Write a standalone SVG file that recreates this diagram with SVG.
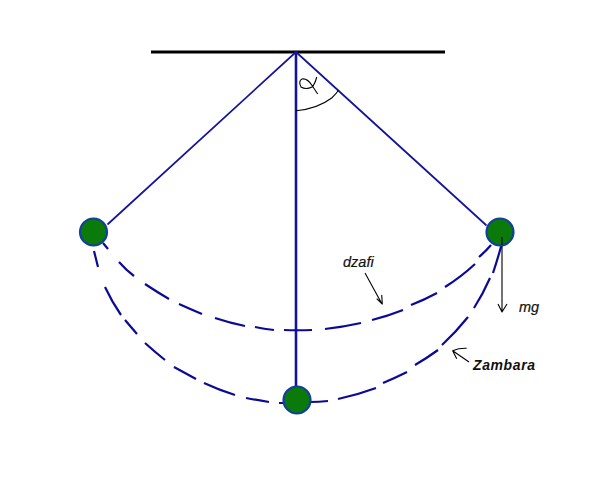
<svg xmlns="http://www.w3.org/2000/svg" width="608" height="478" viewBox="0 0 608 478">
<style>
.rod{fill:none;stroke:#14149a;stroke-width:1.700;stroke-linecap:round}
.dash{fill:none;stroke:#0a0a96;stroke-width:2.2;stroke-linecap:butt}
.thin{fill:none;stroke:#000;stroke-width:1.1;stroke-linejoin:round}
.bob{fill:#0a7a0a;stroke:#12409a;stroke-width:2.2}
.lbl{font-family:"Liberation Sans",Arial,sans-serif;font-style:italic;font-size:14.500px;fill:#111}
</style>
<rect width="608" height="478" fill="#fff"/>
<g id="connectors">
<path d="M151 52H445" fill="none" stroke="#000" stroke-width="3"/>
<path class="rod" d="M296 52V387" style="stroke-width:2.600"/>
<path class="rod" d="M296 52L108 224"/>
<path class="rod" d="M296 52L486 225"/>
<path class="dash" d="M103 243L108 249M119 262Q126 270 134 276M145 284Q157 292 169 299M179 304Q190 309 202 314M215 318Q230 323 245 326M255 327Q264 329 274 330M284 330Q297 330.500 312 330M325 329Q343 327 361 323M372 320Q388 316 403 310M411 305Q424 300 437 293M445 287Q461 277 475 264M479 257Q486 251 491 245"/>
<path class="dash" d="M94 251Q96 259 98 267M105 287Q112 302 121 315M125 320Q131 327 137 334M145 343Q155 352 165 360M174 367Q185 373 196 379M204 383Q219 390 235 395M246 398Q257 400 269 402M279 403L287 403M310 402Q319 402 328 401M338 399Q357 395 376 388M383 383Q395 378 407 372M415 365Q427 358 438 350M442 345Q456 332 468 317M474 308Q483 294 490 278M493 273Q498 258 502 243"/>
<path class="thin" d="M296 110.700Q317 109 331.700 98Q336 94 338.700 90"/>
<path class="thin" d="M316.700 77Q315 84 312 87Q306 90 301 87Q298 81 302 79Q307 78 311.700 85L317.700 94"/>
<path class="thin" d="M365 273L382 304M376.700 298.700L382.300 304L381.700 295"/>
<path class="thin" d="M502 237V312M498 304L502 312L507 304"/>
<path class="thin" d="M469 362L452.700 350.700M456.700 358.700L452.700 350.700Q459 348 466.700 348.300"/>
</g>
<g id="bob-left"><circle class="bob" cx="93.500" cy="232" r="13.500"/></g>
<g id="bob-right"><circle class="bob" cx="500" cy="232" r="13.500"/><path d="M502 237V245" stroke="#000" stroke-width="1.100"/></g>
<g id="bob-bottom"><circle class="bob" cx="297" cy="400" r="13.500"/></g>
<g id="labels">
<text class="lbl" x="343" y="267" stroke="#111" stroke-width="0.200">dzafi</text>
<text class="lbl" x="519" y="312" stroke="#111" stroke-width="0.200">mg</text>
<text class="lbl" x="473" y="370" font-weight="bold" style="font-size:14px" textLength="62">Zambara</text>
</g>
</svg>
